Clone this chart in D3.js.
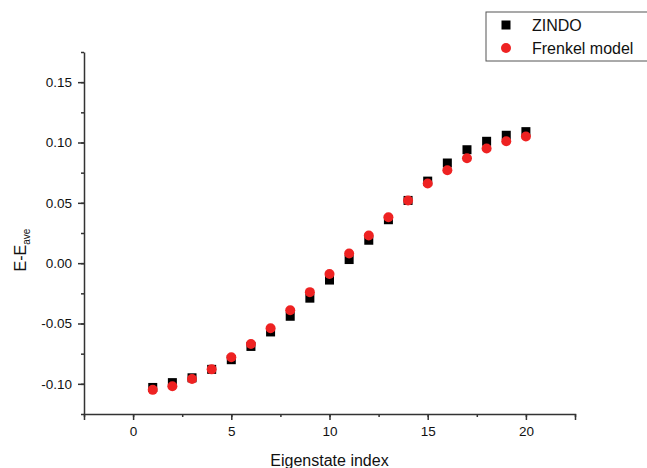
<!DOCTYPE html>
<html>
<head>
<meta charset="utf-8">
<script src="https://cdn.jsdelivr.net/npm/d3@7"></script>
<style>
  body { margin: 0; background: #fff; }
  text { font-family: "Liberation Sans", Arial, sans-serif; fill: #111; }
  .axis path, .axis line { stroke: #333; stroke-width: 1.5; }
</style>
</head>
<body>
<div id="chart"></div>
<script>
// eigenstate indices 1..20
var index = [1, 2, 3, 4, 5, 6, 7, 8, 9, 10, 11, 12, 13, 14, 15, 16, 17, 18, 19, 20];
var zindo = [-0.103, -0.099, -0.095, -0.088, -0.080, -0.069, -0.057, -0.044, -0.029, -0.014,
             0.003, 0.019, 0.036, 0.052, 0.068, 0.083, 0.094, 0.101, 0.106, 0.109];
var frenkel = [-0.105, -0.102, -0.096, -0.088, -0.078, -0.067, -0.054, -0.039, -0.024, -0.009,
               0.008, 0.023, 0.038, 0.052, 0.066, 0.077, 0.087, 0.095, 0.101, 0.105];
var xTicks = [0, 5, 10, 15, 20];
var yTicks = [-0.10, -0.05, 0.00, 0.05, 0.10, 0.15];
var legendNames = ["ZINDO", "Frenkel model"];

var W = 647, H = 468,
    margin = {left: 84, top: 52, right: 72, bottom: 54},
    width = W - margin.left - margin.right,
    height = H - margin.top - margin.bottom;

var svg = d3.select("#chart").append("svg")
    .attr("width", W)
    .attr("height", H);
var g = svg.append("g").attr("transform", "translate(" + margin.left + "," + margin.top + ")");

var x = d3.scaleLinear().domain([-2.5, 22.5]).range([0, width]),
    y = d3.scaleLinear().domain([-0.125, 0.175]).range([height, 0]);

// plain hyphen for negatives, like the original
var fmtY = function(d) { return d3.format(".2f")(d).replace("\u2212", "-"); };

// minor ticks first, then major axes on top
g.append("g")
    .attr("class", "axis")
    .attr("transform", "translate(0," + height + ")")
    .call(d3.axisBottom(x).tickValues(d3.range(-2.5, 22.6, 2.5)).tickSize(3).tickFormat(""))
    .select(".domain").remove();
g.append("g")
    .attr("class", "axis")
    .call(d3.axisLeft(y).tickValues(d3.range(-0.125, 0.176, 0.025)).tickSize(3).tickFormat(""))
    .select(".domain").remove();

var xAxis = g.append("g")
    .attr("class", "axis")
    .attr("transform", "translate(0," + height + ")")
    .call(d3.axisBottom(x).tickValues(xTicks).tickSize(6).tickSizeOuter(6).tickPadding(6).tickFormat(d3.format("d")));
xAxis.selectAll("text").style("font-size", "13.5px").attr("fill", "#111");

var yAxis = g.append("g")
    .attr("class", "axis")
    .call(d3.axisLeft(y).tickValues(yTicks).tickSize(6).tickSizeOuter(0).tickPadding(6).tickFormat(fmtY));
yAxis.selectAll("text").style("font-size", "13.5px").attr("fill", "#111");

// axis titles
g.append("text")
    .attr("x", x(10))
    .attr("y", height + 52)
    .attr("text-anchor", "middle")
    .style("font-size", "16px")
    .text("Eigenstate index");

var ylab = svg.append("text")
    .attr("transform", "translate(26," + 250 + ") rotate(-90)")
    .attr("text-anchor", "middle")
    .style("font-size", "16px");
ylab.append("tspan").text("E-E");
ylab.append("tspan").attr("dy", 4).style("font-size", "10px").text("ave");

// data points
var sq = 9;
g.selectAll(".zindo")
    .data(index)
    .enter().append("rect")
    .attr("class", "zindo")
    .attr("x", function(d, i) { return x(d) - sq / 2; })
    .attr("y", function(d, i) { return y(zindo[i]) - sq / 2; })
    .attr("width", sq)
    .attr("height", sq)
    .attr("fill", "#000");

g.selectAll(".frenkel")
    .data(index)
    .enter().append("circle")
    .attr("class", "frenkel")
    .attr("cx", function(d) { return x(d); })
    .attr("cy", function(d, i) { return y(frenkel[i]); })
    .attr("r", 5)
    .attr("fill", "#ee2222");

// legend
var legend = svg.append("g").attr("transform", "translate(486,12)");
legend.append("rect")
    .attr("width", 200)
    .attr("height", 49)
    .attr("fill", "#fff")
    .attr("stroke", "#555")
    .attr("stroke-width", 1);
legend.append("rect")
    .attr("x", 20 - 4.5).attr("y", 13 - 4.5)
    .attr("width", 9).attr("height", 9)
    .attr("fill", "#000");
legend.append("circle")
    .attr("cx", 20).attr("cy", 36)
    .attr("r", 5)
    .attr("fill", "#ee2222");
legend.selectAll(".lab")
    .data(legendNames)
    .enter().append("text")
    .attr("class", "lab")
    .attr("x", 46)
    .attr("y", function(d, i) { return 19 + i * 22.5; })
    .style("font-size", "16px")
    .text(function(d) { return d; });
</script>
</body>
</html>
